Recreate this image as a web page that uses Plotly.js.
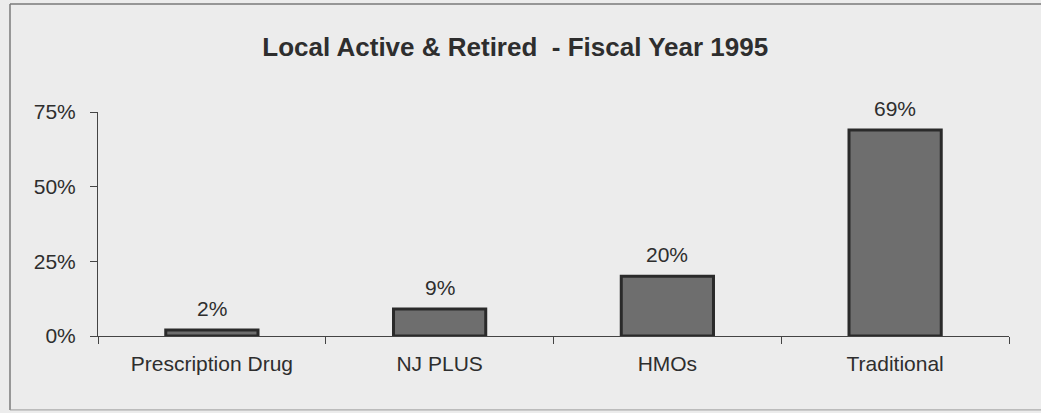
<!DOCTYPE html>
<html>
<head>
<meta charset="utf-8">
<script src="https://cdn.plot.ly/plotly-3.0.1.min.js"></script>
<style>
  html, body { margin: 0; padding: 0; background: #ececec; }
  #chart { width: 1041px; height: 413px; }
</style>
</head>
<body>
<div id="chart"></div>
<script>
// Data
const categories = ["Prescription Drug", "NJ PLUS", "HMOs", "Traditional"];
const shares = [2, 9, 20, 69];
const shareLabels = ["2%", "9%", "20%", "69%"];
const yTickVals = [0, 25, 50, 75];
const yTickText = ["0%", "25%", "50%", "75%"];
const chartTitle = "Local Active & Retired  - Fiscal Year 1995";

const ink = "#2e2e2e";
const axisColor = "#444444";
const fontFam = "Liberation Sans, Arial, sans-serif";

const trace = {
  type: "bar",
  x: categories,
  y: shares,
  marker: { color: "#6e6e6e", line: { color: "#2a2a2a", width: 3 } },
  width: 0.405,
  hoverinfo: "skip"
};

const annotations = categories.map((c, i) => ({
  x: c, y: shares[i], xref: "x", yref: "y",
  text: shareLabels[i], showarrow: false,
  yanchor: "bottom", yshift: 8,
  font: { family: fontFam, size: 21, color: ink }
}));

const layout = {
  width: 1041, height: 413,
  margin: { l: 98, r: 32, t: 112, b: 77 },
  paper_bgcolor: "#ececec",
  plot_bgcolor: "#ececec",
  showlegend: false,
  title: {
    text: "<b>" + chartTitle + "</b>",
    x: 0.458, xref: "paper", xanchor: "center",
    y: 0.886, yanchor: "middle",
    font: { family: fontFam, size: 26, color: ink }
  },
  xaxis: {
    type: "category",
    range: [-0.5, 3.5],
    showline: true, linecolor: axisColor, linewidth: 1,
    ticks: "outside", ticklen: 7, tickcolor: axisColor, tickwidth: 1,
    tickson: "boundaries",
    showgrid: false, zeroline: false,
    ticklabelstandoff: 9,
    tickfont: { family: fontFam, size: 21, color: ink }
  },
  yaxis: {
    range: [0, 75],
    tickvals: yTickVals, ticktext: yTickText,
    showline: true, linecolor: axisColor, linewidth: 1,
    ticks: "outside", ticklen: 7, tickcolor: axisColor, tickwidth: 1,
    showgrid: false, zeroline: false,
    ticklabelstandoff: 10,
    tickfont: { family: fontFam, size: 21, color: ink }
  },
  xaxis2: {
    overlaying: "x", anchor: "y", side: "bottom",
    range: [-0.5, 3.5],
    tickvals: [-0.5, 0.5, 1.5, 2.5, 3.5],
    ticks: "inside", ticklen: 7, tickcolor: axisColor, tickwidth: 1,
    showticklabels: false, showgrid: false, zeroline: false, showline: false
  },
  yaxis2: {
    overlaying: "y", anchor: "x", side: "left",
    range: [0, 75],
    tickvals: yTickVals,
    ticks: "inside", ticklen: 7, tickcolor: axisColor, tickwidth: 1,
    showticklabels: false, showgrid: false, zeroline: false, showline: false
  },
  annotations: annotations,
  shapes: [
    { type: "line", xref: "paper", yref: "paper", x0: -0.0966, x1: 1.05, y0: 1.482, y1: 1.482,
      line: { color: "#7a7a7a", width: 1.5 } },
    { type: "line", xref: "paper", yref: "paper", x0: -0.0966, x1: -0.0966, y0: 1.482, y1: -0.33,
      line: { color: "#7a7a7a", width: 1.5 } },
    { type: "line", xref: "paper", yref: "paper", x0: -0.0966, x1: 1.05, y0: -0.33, y1: -0.33,
      line: { color: "#9a9a9a", width: 1 } }
  ]
};

Plotly.newPlot("chart", [trace], layout, { staticPlot: true, displayModeBar: false });
</script>
</body>
</html>
